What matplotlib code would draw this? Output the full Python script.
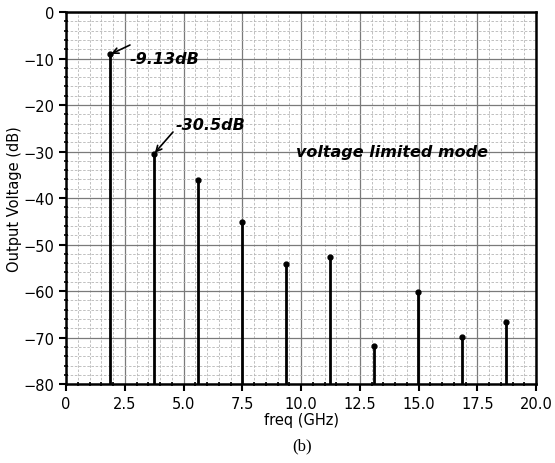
import matplotlib.pyplot as plt
from matplotlib.ticker import MultipleLocator

freq = [1.87, 3.74, 5.61, 7.48, 9.35, 11.22, 13.09, 14.96, 16.83, 18.70]
vout = [-9.13, -30.5, -36.1, -45.2, -54.1, -52.6, -71.7, -60.2, -69.8, -66.6]
xticks = [0, 2.5, 5.0, 7.5, 10.0, 12.5, 15.0, 17.5, 20.0]
xlabels = ['0', '2.5', '5.0', '7.5', '10.0', '12.5', '15.0', '17.5', '20.0']

fig = plt.figure(figsize=(5.55, 4.64), dpi=100)
ax = fig.add_axes([0.119, 0.170, 0.847, 0.802])

ax.set_xlim(0, 20)
ax.set_ylim(-80, 0)
ax.set_xticks(xticks)
ax.set_xticklabels(xlabels)
ax.set_yticks(range(-80, 1, 10))
ax.xaxis.set_minor_locator(MultipleLocator(0.5))
ax.yaxis.set_minor_locator(MultipleLocator(2))

ax.grid(which='major', color='#7a7a7a', lw=0.9)
ax.grid(which='minor', color='#b5b5b5', lw=0.6, ls=(0, (3, 2)))
ax.set_axisbelow(True)

for s in ax.spines.values():
    s.set_linewidth(1.8)
ax.tick_params(which='major', length=5, width=1.5, labelsize=10.5, direction='out')
ax.tick_params(which='minor', length=3, width=1.2, direction='inout')

ax.vlines(freq, -80, vout, color='black', lw=2)
ax.plot(freq, vout, ls='none', marker='o', ms=3.5, color='black')

# annotation arrows and labels
ax.annotate('', xy=(freq[0], vout[0]), xytext=(2.72, -7.1),
            arrowprops=dict(arrowstyle='->', color='black', lw=1.2, shrinkA=0, shrinkB=1))
ax.annotate('', xy=(freq[1], vout[1]), xytext=(4.55, -25.8),
            arrowprops=dict(arrowstyle='->', color='black', lw=1.2, shrinkA=0, shrinkB=1))
lbl = dict(fontsize=11.5, style='italic', weight='bold', va='center')
ax.text(2.72, -10.1, '-9.13dB', **lbl)
ax.text(4.64, -24.1, '-30.5dB', **lbl)
ax.text(9.79, -29.9, 'voltage limited mode', **lbl)

ax.set_xlabel('freq (GHz)', fontsize=10.5, labelpad=1)
ax.set_ylabel('Output Voltage (dB)', fontsize=10.5, labelpad=1)

fig.text(0.545, 0.03, '(b)', fontsize=12, family='Liberation Serif', ha='center')

fig.savefig('out.png', dpi=100)
